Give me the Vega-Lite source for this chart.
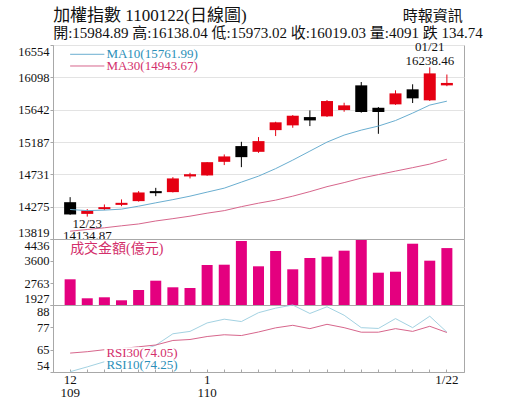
{
  "$schema": "https://vega.github.io/schema/vega-lite/v6.json",
  "background": "white",
  "padding": {"left": 17, "top": 6, "right": 5, "bottom": 5},
  "bounds": "flush",
  "data": {
    "values": [
      {"date": "12/22", "o": 14338, "h": 14409, "l": 14160, "c": 14165, "ma10": 14235, "ma30": 13929, "vol": 2904, "rsi10": 54.15, "rsi30": 63.6},
      {"date": "12/23", "o": 14173, "h": 14240, "l": 14134.87, "c": 14221, "ma10": 14219, "ma30": 13953, "vol": 2182, "rsi10": 56.6, "rsi30": 64.3},
      {"date": "12/24", "o": 14240, "h": 14306, "l": 14226, "c": 14268, "ma10": 14226, "ma30": 13977, "vol": 2220, "rsi10": 59.2, "rsi30": 65.3},
      {"date": "12/25", "o": 14300, "h": 14377, "l": 14282, "c": 14329, "ma10": 14240, "ma30": 14005, "vol": 2106, "rsi10": 61.5, "rsi30": 65.9},
      {"date": "12/28", "o": 14353, "h": 14494, "l": 14346, "c": 14475, "ma10": 14282, "ma30": 14031, "vol": 2497, "rsi10": 64.4, "rsi30": 66.8},
      {"date": "12/29", "o": 14494, "h": 14540, "l": 14423, "c": 14465, "ma10": 14329, "ma30": 14073, "vol": 2851, "rsi10": 67.6, "rsi30": 67.7},
      {"date": "12/30", "o": 14480, "h": 14691, "l": 14475, "c": 14673, "ma10": 14374, "ma30": 14106, "vol": 2600, "rsi10": 73.4, "rsi30": 70.0},
      {"date": "12/31", "o": 14701, "h": 14752, "l": 14673, "c": 14732.53, "ma10": 14423, "ma30": 14141, "vol": 2573, "rsi10": 74.6, "rsi30": 70.5},
      {"date": "01/04", "o": 14715, "h": 14903, "l": 14710, "c": 14902.03, "ma10": 14480, "ma30": 14183, "vol": 3448, "rsi10": 78.9, "rsi30": 72.0},
      {"date": "01/05", "o": 14907, "h": 15011, "l": 14861, "c": 14983.13, "ma10": 14536, "ma30": 14219, "vol": 3459, "rsi10": 80.8, "rsi30": 72.9},
      {"date": "01/06", "o": 15129, "h": 15189, "l": 14832, "c": 14973, "ma10": 14621, "ma30": 14275, "vol": 4360, "rsi10": 79.6, "rsi30": 72.5},
      {"date": "01/07", "o": 15048, "h": 15256, "l": 15034, "c": 15199, "ma10": 14705, "ma30": 14324, "vol": 3398, "rsi10": 84.1, "rsi30": 74.3},
      {"date": "01/08", "o": 15354, "h": 15472, "l": 15270, "c": 15463.95, "ma10": 14811, "ma30": 14367, "vol": 3980, "rsi10": 86.4, "rsi30": 76.4},
      {"date": "01/11", "o": 15421, "h": 15566, "l": 15387, "c": 15557, "ma10": 14931, "ma30": 14423, "vol": 3284, "rsi10": 88.0, "rsi30": 77.7},
      {"date": "01/12", "o": 15538, "h": 15632, "l": 15411, "c": 15491, "ma10": 15058, "ma30": 14487, "vol": 3714, "rsi10": 83.7, "rsi30": 76.0},
      {"date": "01/13", "o": 15548, "h": 15778, "l": 15540, "c": 15764, "ma10": 15185, "ma30": 14557, "vol": 3764, "rsi10": 87.1, "rsi30": 78.2},
      {"date": "01/14", "o": 15637, "h": 15740, "l": 15613, "c": 15703, "ma10": 15284, "ma30": 14614, "vol": 3992, "rsi10": 82.8, "rsi30": 76.5},
      {"date": "01/15", "o": 15985, "h": 16032, "l": 15600, "c": 15609, "ma10": 15354, "ma30": 14677, "vol": 4398, "rsi10": 76.5, "rsi30": 74.2},
      {"date": "01/18", "o": 15669, "h": 15679, "l": 15302, "c": 15609, "ma10": 15411, "ma30": 14727, "vol": 3155, "rsi10": 76.1, "rsi30": 74.2},
      {"date": "01/19", "o": 15717, "h": 15915, "l": 15710, "c": 15872, "ma10": 15489, "ma30": 14776, "vol": 3193, "rsi10": 81.1, "rsi30": 76.0},
      {"date": "01/20", "o": 15929, "h": 16000, "l": 15736, "c": 15802, "ma10": 15594, "ma30": 14825, "vol": 4257, "rsi10": 76.5, "rsi30": 74.6},
      {"date": "01/21", "o": 15774, "h": 16238.46, "l": 15765, "c": 16153.77, "ma10": 15707, "ma30": 14875, "vol": 3612, "rsi10": 82.3, "rsi30": 77.2},
      {"date": "01/22", "o": 15984.89, "h": 16138.04, "l": 15973.02, "c": 16019.03, "ma10": 15761.99, "ma30": 14943.67, "vol": 4091, "rsi10": 74.25, "rsi30": 74.05}
    ]
  },
  "config": {
    "view": {"stroke": "#a8a8a8"},
    "concat": {"spacing": 0},
    "axis": {
      "labelFont": "Liberation Serif",
      "labelFontSize": 12.5,
      "labelColor": "#111",
      "domainColor": "#a8a8a8",
      "tickColor": "#a8a8a8",
      "tickSize": 3,
      "labelPadding": 1,
      "labelOverlap": false,
      "tickCount": 10,
      "gridColor": "#e3e3e3"
    },
    "text": {"font": "Liberation Serif, Noto Sans CJK TC"}
  },
  "vconcat": [
    {
      "width": 411,
      "height": 194,
      "layer": [
        {
          "mark": {"type": "rule", "strokeWidth": 1},
          "encoding": {
            "x": {
              "field": "date", "type": "ordinal", "sort": null,
              "scale": {"domain": ["12/22","12/23","12/24","12/25","12/28","12/29","12/30","12/31","01/04","01/05","01/06","01/07","01/08","01/11","01/12","01/13","01/14","01/15","01/18","01/19","01/20","01/21","01/22"], "paddingInner": 0, "paddingOuter": 0.5},
              "axis": null
            },
            "y": {
              "field": "l", "type": "quantitative",
              "scale": {"domain": [13819, 16554], "nice": false, "zero": false},
              "axis": {"title": null, "values": [13819, 14274.83, 14730.67, 15186.5, 15642.33, 16098.17, 16554], "tickCount": 10, "format": "d", "labelFlush": true, "labelOverlap": false, "grid": true}
            },
            "y2": {"field": "h"},
            "color": {"condition": {"test": "datum.c >= datum.o", "value": "#e50012"}, "value": "#000000"}
          }
        },
        {
          "mark": {"type": "bar", "size": 12},
          "encoding": {
            "x": {"field": "date", "type": "ordinal", "sort": null},
            "y": {"field": "o", "type": "quantitative"},
            "y2": {"field": "c"},
            "color": {"condition": {"test": "datum.c >= datum.o", "value": "#e50012"}, "value": "#000000"}
          }
        },
        {
          "mark": {"type": "line", "color": "#6aaed0", "strokeWidth": 1},
          "encoding": {
            "x": {"field": "date", "type": "ordinal", "sort": null},
            "y": {"field": "ma10", "type": "quantitative"}
          }
        },
        {
          "mark": {"type": "line", "color": "#d7668c", "strokeWidth": 1},
          "encoding": {
            "x": {"field": "date", "type": "ordinal", "sort": null},
            "y": {"field": "ma30", "type": "quantitative"}
          }
        },
        {
          "transform": [{"filter": "datum.date == '01/21'"}],
          "mark": {"type": "text", "baseline": "bottom", "dy": -13, "fontSize": 13, "lineHeight": 13.5, "color": "#111"},
          "encoding": {
            "x": {"field": "date", "type": "ordinal", "sort": null},
            "y": {"field": "h", "type": "quantitative"},
            "text": {"value": ["01/21", "16238.46"]}
          }
        },
        {
          "transform": [{"filter": "datum.date == '12/23'"}],
          "mark": {"type": "text", "baseline": "top", "dy": 1, "fontSize": 13, "lineHeight": 12.5, "color": "#111"},
          "encoding": {
            "x": {"field": "date", "type": "ordinal", "sort": null},
            "y": {"field": "l", "type": "quantitative"},
            "text": {"value": ["12/23", "14134.87"]}
          }
        },
        {
          "data": {"values": [{}]},
          "layer": [
            {
              "mark": {"type": "rule", "color": "#6aaed0", "strokeWidth": 1},
              "encoding": {"x": {"datum": "12/22", "type": "ordinal"}, "x2": {"datum": "12/24"}, "y": {"datum": 16423}}
            },
            {
              "mark": {"type": "rule", "color": "#d7668c", "strokeWidth": 1},
              "encoding": {"x": {"datum": "12/22", "type": "ordinal"}, "x2": {"datum": "12/24"}, "y": {"datum": 16258}}
            },
            {
              "mark": {"type": "text", "align": "left", "baseline": "middle", "dx": 2, "fontSize": 13, "color": "#2b8fb8"},
              "encoding": {"x": {"datum": "12/24", "type": "ordinal"}, "y": {"datum": 16423}, "text": {"value": "MA10(15761.99)"}}
            },
            {
              "mark": {"type": "text", "align": "left", "baseline": "middle", "dx": 2, "fontSize": 13, "color": "#d32f6b"},
              "encoding": {"x": {"datum": "12/24", "type": "ordinal"}, "y": {"datum": 16258}, "text": {"value": "MA30(14943.67)"}}
            },
            {
              "mark": {"type": "text", "align": "left", "baseline": "middle", "dx": -17, "dy": -29, "fontSize": 17, "color": "#111"},
              "encoding": {"x": {"datum": "12/22", "type": "ordinal"}, "y": {"datum": 16554}, "text": {"value": "加權指數 1100122(日線圖)"}}
            },
            {
              "mark": {"type": "text", "align": "right", "baseline": "middle", "dx": 16, "dy": -29, "fontSize": 15, "color": "#111"},
              "encoding": {"x": {"datum": "01/22", "type": "ordinal"}, "y": {"datum": 16554}, "text": {"value": "時報資訊"}}
            },
            {
              "mark": {"type": "text", "align": "left", "baseline": "middle", "dx": -17, "dy": -12, "fontSize": 15, "color": "#111"},
              "encoding": {"x": {"datum": "12/22", "type": "ordinal"}, "y": {"datum": 16554}, "text": {"value": "開:15984.89 高:16138.04 低:15973.02 收:16019.03 量:4091 跌 134.74"}}
            }
          ]
        }
      ]
    },
    {
      "width": 411,
      "height": 66,
      "layer": [
        {
          "mark": {"type": "bar", "size": 11, "color": "#e4007f"},
          "encoding": {
            "x": {
              "field": "date", "type": "ordinal", "sort": null,
              "scale": {"domain": ["12/22","12/23","12/24","12/25","12/28","12/29","12/30","12/31","01/04","01/05","01/06","01/07","01/08","01/11","01/12","01/13","01/14","01/15","01/18","01/19","01/20","01/21","01/22"], "paddingInner": 0, "paddingOuter": 0.5},
              "axis": null
            },
            "y": {
              "field": "vol", "type": "quantitative",
              "scale": {"domain": [1927, 4436], "nice": false, "zero": false},
              "axis": {"title": null, "values": [1927, 2763.33, 3599.67, 4436], "tickCount": 10, "format": "d", "labelFlush": true, "labelOverlap": false, "grid": false}
            },
            "y2": {"datum": 1927}
          }
        },
        {
          "data": {"values": [{}]},
          "mark": {"type": "text", "align": "left", "baseline": "middle", "fontSize": 14, "color": "#d32f6b"},
          "encoding": {"x": {"datum": "12/22", "type": "ordinal"}, "y": {"datum": 4055}, "text": {"value": "成交金額(億元)"}}
        }
      ]
    },
    {
      "width": 411,
      "height": 67,
      "layer": [
        {
          "mark": {"type": "line", "color": "#a3d2e2", "strokeWidth": 1},
          "encoding": {
            "x": {
              "field": "date", "type": "ordinal", "sort": null,
              "scale": {"domain": ["12/22","12/23","12/24","12/25","12/28","12/29","12/30","12/31","01/04","01/05","01/06","01/07","01/08","01/11","01/12","01/13","01/14","01/15","01/18","01/19","01/20","01/21","01/22"], "paddingInner": 0, "paddingOuter": 0.5},
              "axis": {
                "title": null, "labelAngle": 0, "labelOverlap": false, "grid": false,
                "tickSize": -3, "labelPadding": 4,
                "labelFontSize": 13, "labelLineHeight": 13,
                "labelExpr": "datum.value == '12/22' ? ['12', '109'] : datum.value == '01/04' ? ['1', '110'] : datum.value == '01/22' ? '1/22' : ''"
              }
            },
            "y": {
              "field": "rsi10", "type": "quantitative",
              "scale": {"domain": [54, 88], "nice": false, "zero": false},
              "axis": {"title": null, "values": [54, 65.33, 76.67, 88], "tickCount": 10, "format": "d", "labelFlush": true, "labelOverlap": false, "grid": false}
            }
          }
        },
        {
          "mark": {"type": "line", "color": "#d7668c", "strokeWidth": 1},
          "encoding": {
            "x": {"field": "date", "type": "ordinal", "sort": null},
            "y": {"field": "rsi30", "type": "quantitative"}
          }
        },
        {
          "data": {"values": [{}]},
          "layer": [
            {
              "mark": {"type": "rect", "color": "white"},
              "encoding": {"x": {"datum": "12/24", "type": "ordinal"}, "x2": {"datum": "12/29"}, "y": {"datum": 55.5}, "y2": {"datum": 66.5}}
            },
            {
              "mark": {"type": "text", "align": "left", "baseline": "middle", "dx": 2, "fontSize": 13, "color": "#d32f6b"},
              "encoding": {"x": {"datum": "12/24", "type": "ordinal"}, "y": {"datum": 63.8}, "text": {"value": "RSI30(74.05)"}}
            },
            {
              "mark": {"type": "text", "align": "left", "baseline": "middle", "dx": 2, "fontSize": 13, "color": "#2b8fb8"},
              "encoding": {"x": {"datum": "12/24", "type": "ordinal"}, "y": {"datum": 57.6}, "text": {"value": "RSI10(74.25)"}}
            }
          ]
        }
      ]
    }
  ]
}
